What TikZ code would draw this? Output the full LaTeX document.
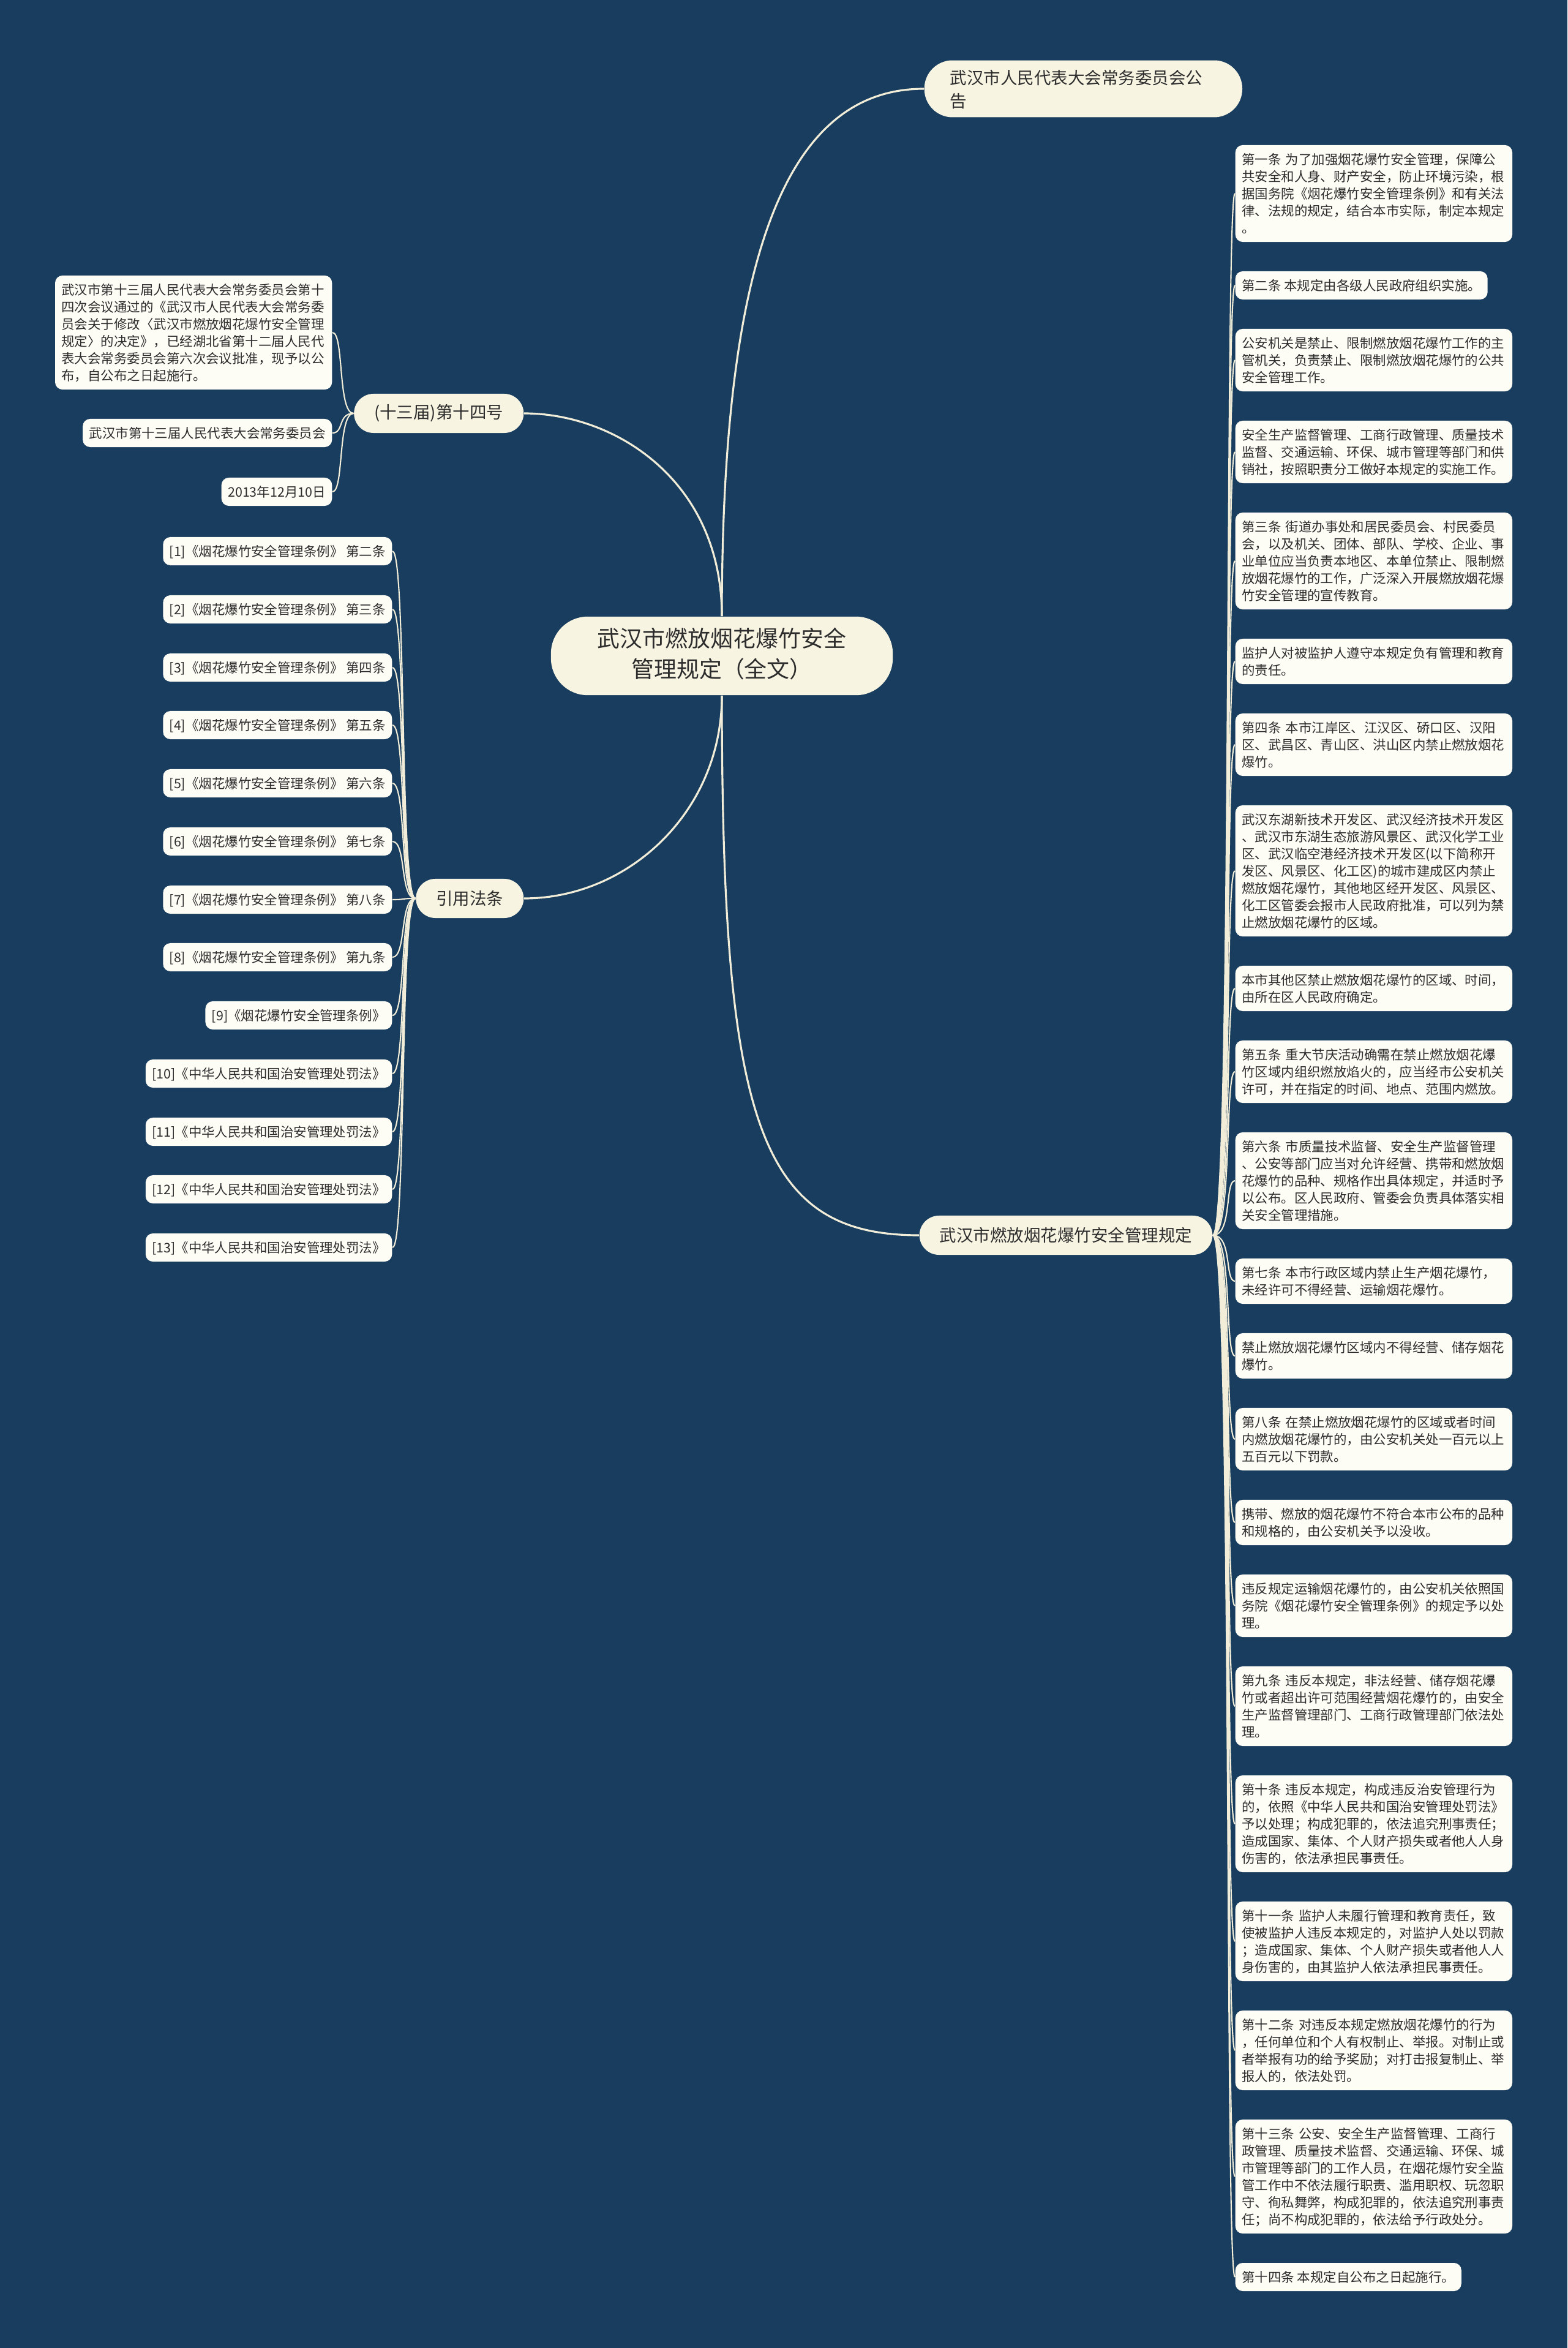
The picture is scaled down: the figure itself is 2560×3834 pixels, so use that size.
\documentclass[tikz,border=0pt]{standalone}
\usepackage{fontspec}
\setmainfont{Noto Sans CJK SC}
\usepackage{xcolor}
\usepackage{tikz}
\usetikzlibrary{positioning}
\definecolor{bgblue}{RGB}{24,61,94}
\definecolor{creamfill}{RGB}{248,244,226}
\definecolor{leaffill}{RGB}{253,252,245}
\definecolor{linkcol}{RGB}{242,237,216}
\definecolor{txtcol}{RGB}{45,45,45}
\newcommand{\nodestrut}{\vrule height .8\baselineskip depth .2\baselineskip width 0pt}

\begin{document}
\begin{tikzpicture}[x=0.01cm, y=-0.01cm,
          rootbox/.style={fill=creamfill, rounded corners=0.6cm, text=txtcol, align=center,
            font=\fontsize{10.5}{14.2}\selectfont, inner xsep=0.76cm, inner ysep=0.185cm,
            execute at begin node=\nodestrut, execute at end node=\nodestrut},
          subbox/.style={fill=creamfill, rounded corners=0.32cm, text=txtcol,
            font=\fontsize{7.82}{9.4}\selectfont, inner xsep=0.33cm, inner ysep=0pt, minimum height=0.64cm},
          notebox/.style={fill=creamfill, rounded corners=0.46cm, text=txtcol, align=left, text width=4.35cm,
            font=\fontsize{7.82}{10.8}\selectfont, inner xsep=0.42cm, inner ysep=0.085cm,
            execute at begin node=\nodestrut, execute at end node=\nodestrut},
          leaf/.style={fill=leaffill, rounded corners=0.12cm, text=txtcol, align=left,
            font=\fontsize{6.1}{7.97}\selectfont, inner xsep=0.105cm, inner ysep=0.09cm,
            execute at begin node=\nodestrut, execute at end node=\nodestrut},
          leafw/.style={leaf, text width=4.31cm},
          lnk/.style={draw=linkcol, line width=0.6pt},
          mainlnk/.style={draw=linkcol, line width=0.9pt},
        ]
        \useasboundingbox (0,0) rectangle (2560,3834);
        \fill[bgblue] (0,0) rectangle (2560,3834);

        \node[rootbox] (root) at (1179,1071) {武汉市燃放烟花爆竹安全\\管理规定（全文）};
        \node[notebox, anchor=west] (notice) at (1509,145) {武汉市人民代表大会常务委员会公\\告};
        \node[subbox, anchor=east] (issue) at (856,675) {(十三届)第十四号};
        \node[subbox, anchor=east] (refs) at (856,1467) {引用法条};
        \node[subbox, anchor=west] (rules) at (1501,2017) {武汉市燃放烟花爆竹安全管理规定};

        \node[leafw, anchor=east] (i1) at (543,543) {武汉市第十三届人民代表大会常务委员会第十\\四次会议通过的《武汉市人民代表大会常务委\\员会关于修改〈武汉市燃放烟花爆竹安全管理\\规定〉的决定》，已经湖北省第十二届人民代\\表大会常务委员会第六次会议批准，现予以公\\布，自公布之日起施行。};
        \node[leaf, anchor=east] (i2) at (543,707) {武汉市第十三届人民代表大会常务委员会};
        \node[leaf, anchor=east] (i3) at (543,803) {2013年12月10日};

        \node[leaf, anchor=east] (c1) at (641,900) {[1]《烟花爆竹安全管理条例》 第二条};
        \node[leaf, anchor=east] (c2) at (641,995) {[2]《烟花爆竹安全管理条例》 第三条};
        \node[leaf, anchor=east] (c3) at (641,1090) {[3]《烟花爆竹安全管理条例》 第四条};
        \node[leaf, anchor=east] (c4) at (641,1184) {[4]《烟花爆竹安全管理条例》 第五条};
        \node[leaf, anchor=east] (c5) at (641,1279) {[5]《烟花爆竹安全管理条例》 第六条};
        \node[leaf, anchor=east] (c6) at (641,1374) {[6]《烟花爆竹安全管理条例》 第七条};
        \node[leaf, anchor=east] (c7) at (641,1469) {[7]《烟花爆竹安全管理条例》 第八条};
        \node[leaf, anchor=east] (c8) at (641,1563) {[8]《烟花爆竹安全管理条例》 第九条};
        \node[leaf, anchor=east] (c9) at (641,1658) {[9]《烟花爆竹安全管理条例》};
        \node[leaf, anchor=east] (c10) at (641,1753) {[10]《中华人民共和国治安管理处罚法》};
        \node[leaf, anchor=east] (c11) at (641,1848) {[11]《中华人民共和国治安管理处罚法》};
        \node[leaf, anchor=east] (c12) at (641,1942) {[12]《中华人民共和国治安管理处罚法》};
        \node[leaf, anchor=east] (c13) at (641,2037) {[13]《中华人民共和国治安管理处罚法》};

        \node[leafw, anchor=west] (r1) at (2017,316) {第一条 为了加强烟花爆竹安全管理，保障公\\共安全和人身、财产安全，防止环境污染，根\\据国务院《烟花爆竹安全管理条例》和有关法\\律、法规的规定，结合本市实际，制定本规定\\。};
        \node[leaf, anchor=west] (r2) at (2017,466) {第二条 本规定由各级人民政府组织实施。};
        \node[leafw, anchor=west] (r3) at (2017,588) {公安机关是禁止、限制燃放烟花爆竹工作的主\\管机关，负责禁止、限制燃放烟花爆竹的公共\\安全管理工作。};
        \node[leafw, anchor=west] (r4) at (2017,738) {安全生产监督管理、工商行政管理、质量技术\\监督、交通运输、环保、城市管理等部门和供\\销社，按照职责分工做好本规定的实施工作。};
        \node[leafw, anchor=west] (r5) at (2017,916) {第三条 街道办事处和居民委员会、村民委员\\会，以及机关、团体、部队、学校、企业、事\\业单位应当负责本地区、本单位禁止、限制燃\\放烟花爆竹的工作，广泛深入开展燃放烟花爆\\竹安全管理的宣传教育。};
        \node[leafw, anchor=west] (r6) at (2017,1080) {监护人对被监护人遵守本规定负有管理和教育\\的责任。};
        \node[leafw, anchor=west] (r7) at (2017,1216) {第四条 本市江岸区、江汉区、硚口区、汉阳\\区、武昌区、青山区、洪山区内禁止燃放烟花\\爆竹。};
        \node[leafw, anchor=west] (r8) at (2017,1422) {武汉东湖新技术开发区、武汉经济技术开发区\\、武汉市东湖生态旅游风景区、武汉化学工业\\区、武汉临空港经济技术开发区(以下简称开\\发区、风景区、化工区)的城市建成区内禁止\\燃放烟花爆竹，其他地区经开发区、风景区、\\化工区管委会报市人民政府批准，可以列为禁\\止燃放烟花爆竹的区域。};
        \node[leafw, anchor=west] (r9) at (2017,1614) {本市其他区禁止燃放烟花爆竹的区域、时间，\\由所在区人民政府确定。};
        \node[leafw, anchor=west] (r10) at (2017,1750) {第五条 重大节庆活动确需在禁止燃放烟花爆\\竹区域内组织燃放焰火的，应当经市公安机关\\许可，并在指定的时间、地点、范围内燃放。};
        \node[leafw, anchor=west] (r11) at (2017,1928) {第六条 市质量技术监督、安全生产监督管理\\、公安等部门应当对允许经营、携带和燃放烟\\花爆竹的品种、规格作出具体规定，并适时予\\以公布。区人民政府、管委会负责具体落实相\\关安全管理措施。};
        \node[leafw, anchor=west] (r12) at (2017,2092) {第七条 本市行政区域内禁止生产烟花爆竹，\\未经许可不得经营、运输烟花爆竹。};
        \node[leafw, anchor=west] (r13) at (2017,2214) {禁止燃放烟花爆竹区域内不得经营、储存烟花\\爆竹。};
        \node[leafw, anchor=west] (r14) at (2017,2350) {第八条 在禁止燃放烟花爆竹的区域或者时间\\内燃放烟花爆竹的，由公安机关处一百元以上\\五百元以下罚款。};
        \node[leafw, anchor=west] (r15) at (2017,2486) {携带、燃放的烟花爆竹不符合本市公布的品种\\和规格的，由公安机关予以没收。};
        \node[leafw, anchor=west] (r16) at (2017,2622) {违反规定运输烟花爆竹的，由公安机关依照国\\务院《烟花爆竹安全管理条例》的规定予以处\\理。};
        \node[leafw, anchor=west] (r17) at (2017,2786) {第九条 违反本规定，非法经营、储存烟花爆\\竹或者超出许可范围经营烟花爆竹的，由安全\\生产监督管理部门、工商行政管理部门依法处\\理。};
        \node[leafw, anchor=west] (r18) at (2017,2978) {第十条 违反本规定，构成违反治安管理行为\\的，依照《中华人民共和国治安管理处罚法》\\予以处理；构成犯罪的，依法追究刑事责任；\\造成国家、集体、个人财产损失或者他人人身\\伤害的，依法承担民事责任。};
        \node[leafw, anchor=west] (r19) at (2017,3170) {第十一条 监护人未履行管理和教育责任，致\\使被监护人违反本规定的，对监护人处以罚款\\；造成国家、集体、个人财产损失或者他人人\\身伤害的，由其监护人依法承担民事责任。};
        \node[leafw, anchor=west] (r20) at (2017,3348) {第十二条 对违反本规定燃放烟花爆竹的行为\\，任何单位和个人有权制止、举报。对制止或\\者举报有功的给予奖励；对打击报复制止、举\\报人的，依法处罚。};
        \node[leafw, anchor=west] (r21) at (2017,3554) {第十三条 公安、安全生产监督管理、工商行\\政管理、质量技术监督、交通运输、环保、城\\市管理等部门的工作人员，在烟花爆竹安全监\\管工作中不依法履行职责、滥用职权、玩忽职\\守、徇私舞弊，构成犯罪的，依法追究刑事责\\任；尚不构成犯罪的，依法给予行政处分。};
        \node[leaf, anchor=west] (r22) at (2017,3718) {第十四条 本规定自公布之日起施行。};

        \draw[mainlnk] (root.north) .. controls +(0,-600) and +(-220,0) .. (notice.west);
        \draw[mainlnk] (root.north) .. controls +(0,-220) and +(150,0) .. (issue.east);
        \draw[mainlnk] (root.south) .. controls +(0,190) and +(170,0) .. (refs.east);
        \draw[mainlnk] (root.south) .. controls +(0,700) and +(-260,0) .. (rules.west);

        \foreach \k in {1,2,3}
          \draw[lnk] (issue.west) .. controls +(-26,0) and +(19,0) .. (i\k.east);
        \foreach \k in {1,...,13}
          \draw[lnk] (refs.west) .. controls +(-26,0) and +(23,0) .. (c\k.east);
        \foreach \k in {1,...,22}
          \draw[lnk] (rules.east) .. controls +(32,0) and +(-17,0) .. (r\k.west);
      \end{tikzpicture}
\end{document}
